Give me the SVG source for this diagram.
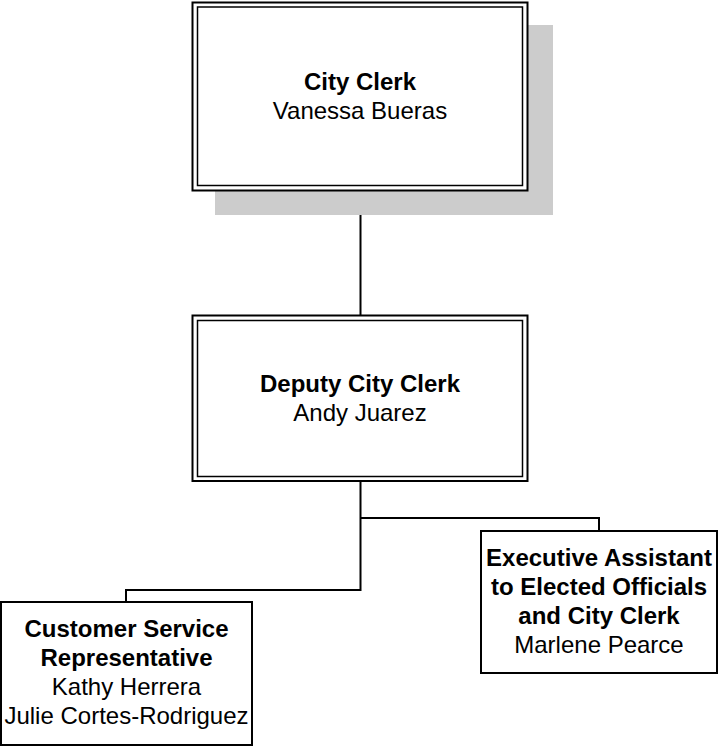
<svg xmlns="http://www.w3.org/2000/svg" width="719" height="746" viewBox="0 0 719 746">
<style>
.outer{fill:#fff;stroke:#000;stroke-width:2}
.inner{fill:none;stroke:#000;stroke-width:1.5}
.box{fill:#fff;stroke:#000;stroke-width:2}
.conn{fill:none;stroke:#000;stroke-width:2}
text{font-family:"Liberation Sans",Arial,sans-serif;font-size:24px;text-anchor:middle;fill:#000}
.b{font-weight:bold}
</style>
<rect width="719" height="746" fill="#fff"/>
<g id="connectors">
<path class="conn" d="M360.5 191 V316"/>
<path class="conn" d="M360.5 481 V590 H126 V602"/>
<path class="conn" d="M360.5 518 H599 V531"/>
</g>
<g id="city-clerk">
<rect x="215" y="25" width="338" height="190" fill="#cccccc"/>
<rect class="outer" x="192.5" y="2.5" width="335" height="188"/>
<rect class="inner" x="197.5" y="7" width="325" height="178.5"/>
<text class="b" x="360" y="89.5">City Clerk</text>
<text x="360" y="118.5">Vanessa Bueras</text>
</g>
<g id="deputy-city-clerk">
<rect class="outer" x="192.5" y="315.5" width="335" height="165.5"/>
<rect class="inner" x="197.5" y="320.5" width="325" height="156"/>
<text class="b" x="360" y="391.5">Deputy City Clerk</text>
<text x="360" y="420.5">Andy Juarez</text>
</g>
<g id="executive-assistant">
<rect class="box" x="481" y="531" width="236" height="142"/>
<text class="b" x="599" y="565.5">Executive Assistant</text>
<text class="b" x="599" y="594.5">to Elected Officials</text>
<text class="b" x="599" y="623.5">and City Clerk</text>
<text x="599" y="652.5">Marlene Pearce</text>
</g>
<g id="customer-service">
<rect class="box" x="1" y="602" width="251" height="143"/>
<text class="b" x="126.5" y="637">Customer Service</text>
<text class="b" x="126.5" y="666">Representative</text>
<text x="126.5" y="695">Kathy Herrera</text>
<text x="126.5" y="724">Julie Cortes-Rodriguez</text>
</g>
</svg>
